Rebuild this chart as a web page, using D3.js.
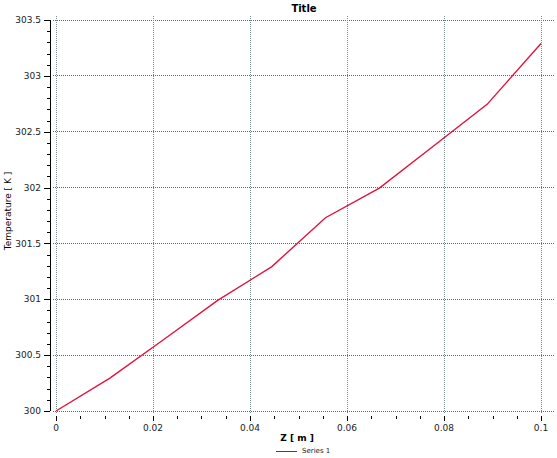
<!DOCTYPE html>
<html><head><meta charset="utf-8">
<script src="https://cdn.jsdelivr.net/npm/d3@7"></script>
<style>body{margin:0;background:#fff}svg{display:block}</style>
</head><body><svg id="c" width="557" height="458"></svg>
<script>
const zValues = [0, 0.01111, 0.02222, 0.03333, 0.04444, 0.05556, 0.06667, 0.07778, 0.08889, 0.1];
const tempValues = [300.0, 300.295, 300.64, 300.99, 301.29, 301.73, 301.995, 302.37, 302.745, 303.29];
const xTicks = [0, 0.02, 0.04, 0.06, 0.08, 0.1];
const yTicks = [300, 300.5, 301, 301.5, 302, 302.5, 303, 303.5];
const titleText = "Title";
const xTitle = "Z [ m ]";
const yTitle = "Temperature [ K ]";
const seriesName = "Series 1";

const svg = d3.select("#c");
const x = d3.scaleLinear().domain([0, 0.1]).range([56, 541]);
const y = d3.scaleLinear().domain([300, 303.5]).range([411, 20]);
const font = "DejaVu Sans, Verdana, sans-serif";
const txtCol = "#222";

// grid
const gridCol = "#5a6a6a";
svg.append("g").selectAll("line").data(yTicks).join("line")
  .attr("x1", 53).attr("x2", 555).attr("y1", d => y(d)).attr("y2", d => y(d))
  .attr("stroke", gridCol).attr("stroke-width", 1).attr("stroke-dasharray", "1,1")
  .attr("shape-rendering", "crispEdges");
svg.append("g").selectAll("line").data(xTicks).join("line")
  .attr("x1", d => x(d)).attr("x2", d => x(d)).attr("y1", 16).attr("y2", 414)
  .attr("stroke", "#7a8c8c").attr("stroke-width", 1).attr("stroke-dasharray", "1,1")
  .attr("shape-rendering", "crispEdges");

// y axis
const yMinor = d3.range(300, 303.5001, 0.1);
const yAx = svg.append("g").attr("transform", "translate(50,0)");
yAx.append("line").attr("x1", 0).attr("x2", 0).attr("y1", y(303.5)).attr("y2", y(300))
  .attr("stroke", "#000").attr("shape-rendering", "crispEdges");
yAx.selectAll("line.minor").data(yMinor).join("line").attr("class", "minor")
  .attr("x1", -3).attr("x2", 0).attr("y1", d => Math.round(y(d)) + 0.5).attr("y2", d => Math.round(y(d)) + 0.5)
  .attr("stroke", "#000");
yAx.selectAll("line.major").data(yTicks).join("line").attr("class", "major")
  .attr("x1", -6).attr("x2", 0).attr("y1", d => Math.round(y(d)) + 0.5).attr("y2", d => Math.round(y(d)) + 0.5)
  .attr("stroke", "#000");
yAx.selectAll("text").data(yTicks).join("text")
  .attr("x", -9).attr("y", d => y(d)).attr("dy", "0.35em")
  .attr("text-anchor", "end").attr("font-family", font).attr("font-size", 9).attr("fill", txtCol)
  .text(d => d3.format("")(d));

// x axis ticks
const xMinor = d3.range(0, 0.10001, 0.005);
const xAx = svg.append("g");
xAx.selectAll("line.minor").data(xMinor).join("line").attr("class", "minor")
  .attr("x1", d => Math.round(x(d)) + 0.5).attr("x2", d => Math.round(x(d)) + 0.5).attr("y1", 416).attr("y2", 419)
  .attr("stroke", "#000");
xAx.selectAll("line.major").data(xTicks).join("line").attr("class", "major")
  .attr("x1", d => Math.round(x(d)) + 0.5).attr("x2", d => Math.round(x(d)) + 0.5).attr("y1", 416).attr("y2", 421)
  .attr("stroke", "#000");
xAx.selectAll("text").data(xTicks).join("text")
  .attr("x", d => x(d)).attr("y", 431)
  .attr("text-anchor", "middle").attr("font-family", font).attr("font-size", 9).attr("fill", txtCol)
  .text(d => d3.format("")(d));

// line
svg.append("path").datum(zValues.map((z, i) => [z, tempValues[i]]))
  .attr("fill", "none").attr("stroke", "#e0143c").attr("stroke-width", 1.4)
  .attr("d", d3.line().x(d => x(d[0])).y(d => y(d[1])));

// titles
svg.append("text").attr("x", 304).attr("y", 12).attr("text-anchor", "middle")
  .attr("font-family", font).attr("font-size", 10).attr("font-weight", "bold").attr("fill", "#000").text(titleText);
svg.append("text").attr("x", 297).attr("y", 441).attr("text-anchor", "middle")
  .attr("font-family", font).attr("font-size", 9).attr("font-weight", "bold").attr("fill", "#000").text(xTitle);
svg.append("text").attr("transform", "translate(11,211) rotate(-90)").attr("text-anchor", "middle")
  .attr("font-family", font).attr("font-size", 9).attr("fill", "#000").text(yTitle);

// legend
svg.append("line").attr("x1", 276).attr("x2", 297).attr("y1", 451.5).attr("y2", 451.5)
  .attr("stroke", "#c01030").attr("stroke-width", 1);
svg.append("text").attr("x", 302).attr("y", 451).attr("dy", "0.35em")
  .attr("font-family", font).attr("font-size", 7).attr("fill", txtCol).text(seriesName);
</script></body></html>
